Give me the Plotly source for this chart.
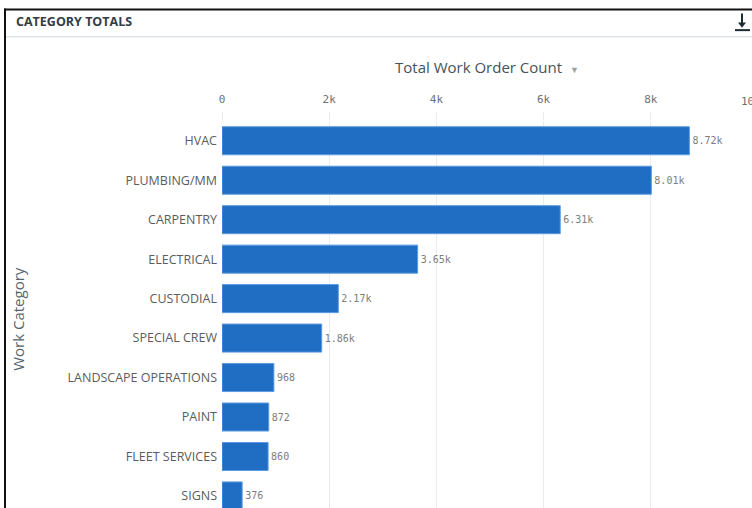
import plotly.graph_objects as go

# Work order totals by category
categories = ["HVAC", "PLUMBING/MM", "CARPENTRY", "ELECTRICAL", "CUSTODIAL",
              "SPECIAL CREW", "LANDSCAPE OPERATIONS", "PAINT", "FLEET SERVICES", "SIGNS"]
counts = [8720, 8010, 6310, 3650, 2170, 1860, 968, 872, 860, 376]
tick_values = [0, 2000, 4000, 6000, 8000, 10000]
tick_labels = ["0", "2k", "4k", "6k", "8k", "10k"]


def short_label(v):
    return f"{v / 1000:.2f}k" if v >= 1000 else str(v)


labels = [short_label(v) for v in counts]

W, H = 752, 508
ML, MT = 222, 121.3
PW, PH = W - ML, H - MT
X_MAX = 9888
Y_RANGE = [9.305, -0.5]


def px(x):
    return (x - ML) / PW


def py(y):
    return (H - y) / PH


BAR = "#1f6ec3"
MONO = "DejaVu Sans Mono"
SANS = "Open Sans"

fig = go.Figure(go.Bar(
    x=counts, y=categories, orientation="h",
    marker=dict(color=BAR, line=dict(color="#5c9ae0", width=1)),
    text=labels, textposition="outside", cliponaxis=False,
    textfont=dict(family=MONO, size=10, color="#7d7d7d"),
    width=0.71, hoverinfo="x+y",
))

fig.update_layout(
    width=W, height=H,
    margin=dict(l=ML, r=0, t=MT, b=0, pad=0),
    paper_bgcolor="white", plot_bgcolor="white",
    showlegend=False,
    xaxis=dict(
        side="top", range=[0, X_MAX], tickvals=tick_values, ticktext=tick_labels,
        showgrid=True, gridcolor="#e9ecef", gridwidth=1, zeroline=False,
        ticks="outside", ticklen=8, tickcolor="#e9ecef", ticklabelstandoff=5,
        tickfont=dict(family=MONO, size=11, color="#707070"),
        showline=False, fixedrange=True,
    ),
    yaxis=dict(
        type="category", categoryorder="array", categoryarray=categories,
        range=Y_RANGE, showgrid=False, zeroline=False, showline=False,
        ticks="", ticklabelstandoff=4,
        tickfont=dict(family=SANS, size=12.5, color="#5c5c5c"),
        fixedrange=True,
    ),
    font=dict(family=SANS),
)

# Label for the last tick, which sits just past the visible plot width
fig.add_annotation(
    xref="paper", yref="paper", x=tick_values[-1] / X_MAX, y=py(102),
    text=tick_labels[-1], showarrow=False, xanchor="center", yanchor="middle",
    xshift=-7, font=dict(family=MONO, size=11, color="#707070"),
)

# Axis titles
fig.add_annotation(
    xref="paper", yref="paper", x=px(487), y=py(67),
    text="Total Work Order Count  <span style='font-size:9px;color:#9aa3aa'>▼</span>",
    showarrow=False, xanchor="center", yanchor="middle",
    font=dict(family=SANS, size=15, color="#44525c"),
)
fig.add_annotation(
    xref="paper", yref="paper", x=px(18), y=py(319),
    text="Work Category", textangle=-90, showarrow=False,
    xanchor="center", yanchor="middle",
    font=dict(family=SANS, size=15, color="#55646e"),
)

# Card header
fig.add_annotation(
    xref="paper", yref="paper", x=px(14), y=py(22),
    text="<b>CATEGORY TOTALS</b>", showarrow=False,
    xanchor="left", yanchor="middle",
    font=dict(family=SANS, size=12.5, color="#333d45"),
)

# Card frame and header divider
fig.add_shape(type="line", xref="paper", yref="paper",
              x0=px(5), x1=px(5), y0=py(9), y1=py(H + 2),
              line=dict(color="#111111", width=2))
fig.add_shape(type="line", xref="paper", yref="paper",
              x0=px(4), x1=px(W + 2), y0=py(10), y1=py(10),
              line=dict(color="#111111", width=2))
fig.add_shape(type="line", xref="paper", yref="paper",
              x0=px(6), x1=px(W + 2), y0=py(37), y1=py(37),
              line=dict(color="#dfe5e9", width=1.5))

# Download icon: stem, arrow head and base bar
fig.add_shape(type="line", xref="paper", yref="paper",
              x0=px(742), x1=px(742), y0=py(14), y1=py(25),
              line=dict(color="#1c2a33", width=2))
fig.add_shape(type="path", xref="paper", yref="paper",
              path=f"M {px(738)} {py(23)} L {px(746)} {py(23)} L {px(742)} {py(28)} Z",
              fillcolor="#1c2a33", line=dict(width=0))
fig.add_shape(type="line", xref="paper", yref="paper",
              x0=px(735), x1=px(750), y0=py(30.5), y1=py(30.5),
              line=dict(color="#1c2a33", width=2))

fig.write_html("out.html")
